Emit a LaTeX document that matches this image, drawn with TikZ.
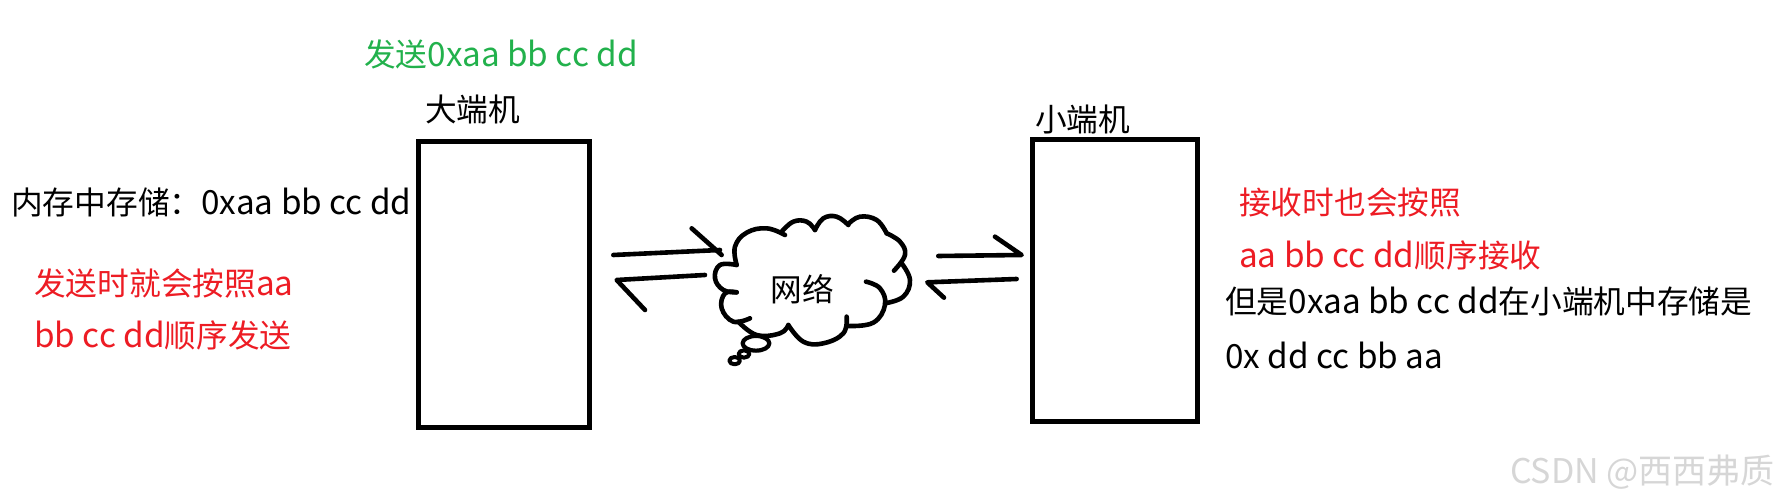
\documentclass[tikz,border=0pt]{standalone}
\usepackage{fontspec}
\setmainfont{Noto Sans CJK SC}
\newfontfamily\lat[Scale=1.05]{Noto Sans CJK SC}
\newcommand{\La}[1]{{\lat #1}}
\definecolor{grn}{RGB}{34,177,76}
\definecolor{rd}{RGB}{237,28,36}
\tikzset{
  lbl/.style={anchor=west,inner sep=0pt,font=\fontsize{31.7}{36}\selectfont,text=black},
  redlbl/.style={lbl,text=rd},
  grnlbl/.style={lbl,text=grn},
  hostbox/.style={draw=black,line width=5pt,inner sep=0pt,minimum width=0pt},
  ink/.style={draw=black,line width=4.6pt,line cap=round,line join=round}
}
\newcommand{\lobe}[1]{\draw[ink] plot[smooth,tension=0.7] coordinates {#1};}
\begin{document}
\begin{tikzpicture}[x=1pt,y=-1pt]
\useasboundingbox (0,0) rectangle (1776,503);
\node[hostbox,minimum width=171pt,minimum height=286pt] (big) at (503.5,284) {};
\node[hostbox,minimum width=165pt,minimum height=282pt] (small) at (1114.5,280) {};
\node[grnlbl] (t1) at (364,54) {发送\La{0xaa bb cc dd}};
\node[lbl] (t2) at (425,109) {大端机};
\node[lbl] (t3) at (1035,119) {小端机};
\node[lbl] (t4) at (11,202) {内存中存储：\La{0xaa bb cc dd}};
\node[redlbl] (t5) at (34,283) {发送时就会按照\La{aa}};
\node[redlbl] (t6) at (34,335) {\La{bb cc dd}顺序发送};
\node[redlbl] (t7) at (1239,202) {接收时也会按照};
\node[redlbl] (t8) at (1239,255) {\La{aa bb cc dd}顺序接收};
\node[lbl] (t9) at (1225,301) {但是\La{0xaa bb cc dd}在小端机中存储是};
\node[lbl] (t10) at (1225,355) {\La{0x dd cc bb aa}};
\node[lbl,anchor=center] (net) at (802,289) {网络};
\node[lbl,anchor=east,text=black!16,font=\fontsize{34}{38}\selectfont] (wm) at (1775,472) {CSDN @西西弗质};
\begin{scope}[shift={(590,200)},x=0.3333pt,y=-0.3333pt]
\lobe{(440,195) (435,140) (470,98) (530,85) (585,105)}
\lobe{(575,95) (610,65) (650,65) (675,90)}
\lobe{(675,90) (700,55) (740,50) (775,75)}
\lobe{(775,72) (810,50) (860,60) (890,100)}
\lobe{(890,100) (930,125) (945,165) (912,212)}
\lobe{(935,190) (960,240) (940,290) (885,310)}
\lobe{(828,245) (870,265) (885,315) (850,368) (775,378)}
\lobe{(770,350) (760,400) (700,430) (640,425) (595,375)}
\lobe{(595,375) (570,400) (500,405) (445,365)}
\lobe{(480,355) (430,365) (395,325) (405,280) (440,277)}
\lobe{(440,277) (400,270) (375,235) (390,195) (440,195)}
\draw[ink,line width=4.2pt] (498,430) ellipse [x radius=40,y radius=22];
\draw[ink,line width=4pt] (462,462) ellipse [x radius=16,y radius=11];
\draw[ink,line width=4pt] (434,482) ellipse [x radius=16,y radius=11];
\coordinate (la1) at (70,165); \coordinate (la2) at (390,150); \coordinate (la3) at (305,85); \coordinate (la4) at (395,165);
\coordinate (lb1) at (345,225); \coordinate (lb2) at (80,240); \coordinate (lb3) at (165,330);
\coordinate (ra1) at (1045,168); \coordinate (ra2) at (1295,165); \coordinate (ra3) at (1215,110);
\coordinate (rb1) at (1280,237); \coordinate (rb2) at (1012,247); \coordinate (rb3) at (1062,293);
\draw[ink] (la1) -- (la2);
\draw[ink] (la3) -- (la4);
\draw[ink] (lb1) -- (lb2) -- (lb3);
\draw[ink] (ra1) -- (ra2) -- (ra3);
\draw[ink] (rb1) -- (rb2) -- (rb3);
\end{scope}
\end{tikzpicture}
\end{document}
